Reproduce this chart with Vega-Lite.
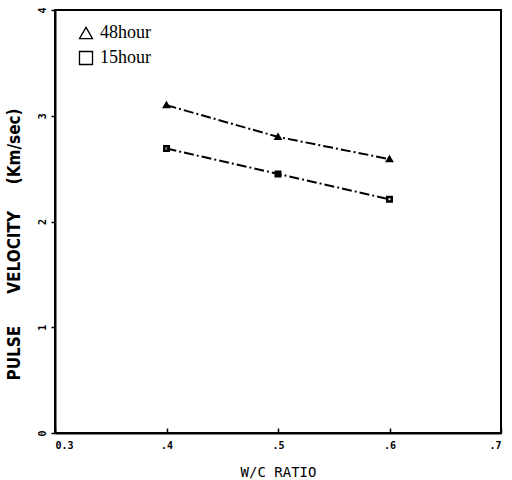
{
  "$schema": "https://vega.github.io/schema/vega-lite/v6.json",
  "width": 446,
  "height": 423,
  "autosize": {"type": "none"},
  "padding": {"left": 55, "top": 10, "right": 11, "bottom": 47},
  "background": "white",
  "config": {
    "view": {"stroke": "black", "strokeWidth": 2},
    "axis": {"domainColor": "black", "domainWidth": 2, "tickColor": "black", "grid": false, "labelColor": "black", "titleColor": "black"}
  },
  "data": {
    "values": [
      {"wc": 0.4, "v": 3.10, "series": "48hour"},
      {"wc": 0.5, "v": 2.80, "series": "48hour"},
      {"wc": 0.6, "v": 2.59, "series": "48hour"},
      {"wc": 0.4, "v": 2.69, "series": "15hour"},
      {"wc": 0.5, "v": 2.45, "series": "15hour"},
      {"wc": 0.6, "v": 2.21, "series": "15hour"}
    ]
  },
  "encoding": {
    "x": {
      "field": "wc", "type": "quantitative",
      "scale": {"domain": [0.3, 0.7], "nice": false},
      "axis": {
        "values": [0.3, 0.4, 0.5, 0.6, 0.7],
        "labelExpr": "datum.value < 0.35 ? '0.3' : slice(format(datum.value, '.1f'), 1)",
        "labelFont": "DejaVu Sans Mono", "labelFontWeight": "bold", "labelFontSize": 10,
        "labelPadding": 12, "tickSize": -5, "tickWidth": 1.5,
        "title": "W/C RATIO", "titleFont": "DejaVu Sans Mono", "titleFontSize": 14, "titleFontWeight": "normal",
        "titlePadding": 15
      }
    },
    "y": {
      "field": "v", "type": "quantitative",
      "scale": {"domain": [0, 4], "nice": false},
      "axis": {
        "values": [0, 1, 2, 3, 4],
        "labelFont": "DejaVu Sans Mono", "labelFontWeight": "bold", "labelFontSize": 10,
        "labelAngle": -90, "labelPadding": 4, "tickSize": 4, "tickWidth": 1.5,
        "title": "PULSE\u00a0\u00a0\u00a0\u00a0\u00a0\u00a0VELOCITY\u00a0\u00a0\u00a0\u00a0\u00a0(Km/sec)", "titleFont": "DejaVu Sans Condensed", "titleFontSize": 17, "titleFontWeight": "bold",
        "titlePadding": 14, "titleY": 234
      }
    },
    "detail": {"field": "series"}
  },
  "layer": [
    {"mark": {"type": "line", "color": "black", "strokeWidth": 2, "strokeDash": [10, 3, 2, 3]}},
    {
      "mark": {"type": "point", "filled": false, "color": "black", "strokeWidth": 2.5, "size": 20, "opacity": 1},
      "encoding": {
        "shape": {
          "field": "series", "type": "nominal",
          "scale": {"domain": ["48hour", "15hour"], "range": ["triangle-up", "square"]},
          "legend": {
            "title": null, "orient": "none", "legendX": 22, "legendY": 14,
            "labelFont": "Liberation Serif", "labelFontSize": 18, "labelColor": "black",
            "symbolSize": 170, "symbolStrokeWidth": 1.3, "rowPadding": 6, "labelOffset": 5,
            "symbolStrokeColor": "black"
          }
        }
      }
    }
  ]
}
